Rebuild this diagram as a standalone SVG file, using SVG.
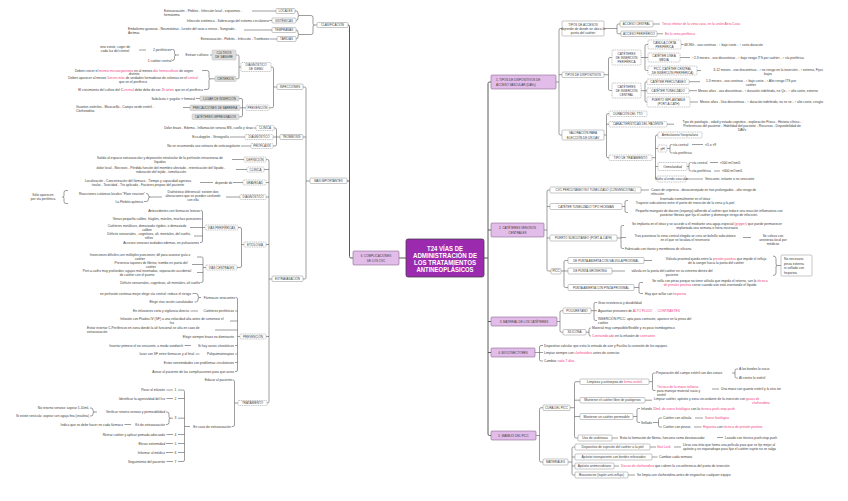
<svg xmlns="http://www.w3.org/2000/svg" width="848" height="501" viewBox="0 0 848 501">
<style>
text{font-family:"Liberation Sans",Arial,sans-serif;font-size:3.3px;fill:#3c3c3c}
.m{text-anchor:middle}
.e{text-anchor:end}
.u{font-size:3px}
.r{fill:#f0417e}
.bx{fill:#fff;stroke:#8f8f8f;stroke-width:.5}
.d{stroke-dasharray:1.2 .6}
.gr{fill:#dedede;stroke:#b0b0b0;stroke-width:.4}
.mn{fill:#e2bde9;stroke:#8a6a8f;stroke-width:.6}
.cn path{fill:none;stroke:#5a5a5a;stroke-width:.6}
.cn path.tk{stroke-width:1}
.ct text{fill:#fff;font-weight:bold;font-size:6.8px;text-anchor:middle}
</style>
<rect width="848" height="501" fill="#fff"/>
<g id="connectors" class="cn">
<path class="tk" d="M406 258H399M484 258H488"/>
<path class="tk" d="M348 25Q349.5 25 349.5 26.5V256.5Q349.5 258 351 258H353M347 181H349.5"/>
<path class="tk" d="M491 82H489.5Q488 82 488 83.5V434Q488 435.5 489.5 435.5H491M488 230H491M488 321.5H491M488 352.5H491"/>
<path d="M299.5 15.5H311Q313 15.5 313 17.5V23.5Q313 25 314.5 25H317M314.5 25Q313 25 313 26.5V32.5Q313 34.5 311 34.5H299.5"/>
<path d="M295 11H296Q298 11 298 13V14Q298 15.5 299.5 15.5Q298 15.5 298 17V18.5Q298 20.5 296 20.5"/>
<path d="M296 30Q298 30 298 32V33Q298 34.5 299.5 34.5Q298 34.5 298 36V37Q298 39 296 39"/>
<path d="M252 11H276M269.5 20.5H272M244 30H272M269.5 39H277"/>
<path d="M303 87H304.5Q306 87 306 88.5V277.5Q306 279 304.5 279H303M306 137H303M306 181H310"/>
<path d="M277 87H273.5M271 67H272Q273.5 67 273.5 68.5V106.3Q273.5 107.8 272 107.8H269"/>
<path d="M241 67H239M236 55H237.5Q239 55 239 56.5V77.3Q239 78.8 237.5 78.8H236"/>
<path d="M210 55H212M171 49.5H172.5Q174.5 49.5 174.5 51.5V53.5Q174.5 55 176 55H179M176 55Q174.5 55 174.5 56.5V58.5Q174.5 60.5 172.5 60.5H172M139 50H146"/>
<path d="M202 70.5H207Q209 70.5 209 72.5V77.3Q209 78.8 210.5 78.8H215M210.5 78.8Q209 78.8 209 80.3V87.5Q209 89.5 207 89.5H204"/>
<path d="M246 107.8H240M239 98.5H241Q242.5 98.5 242.5 100V115.3Q242.5 116.8 241 116.8H239M196 98.5H200M183 107.5H190"/>
<path d="M280 137H273M274 128H275Q276.5 128 276.5 129.5V144.5Q276.5 146 275 146H273M253.5 128H256M230 137H245M241 146H251"/>
<path d="M272 279H269M266 159.5H267.5Q269 159.5 269 161V401.5Q269 403 267.5 403H267M269 169.5H264M269 182.5H266M269 197H266M269 244.5H266M269 336.5H266"/>
<path d="M232 159.5H244M236 169.5H247M200 182.5H213M233 182.5H243M226 197H240"/>
<path d="M146 193.5H146.5Q148.5 193.5 148.5 195.5Q148.5 197 150 197H162M150 197Q148.5 197 148.5 198.5Q148.5 201.5 146.5 201.5H144"/>
<path d="M68 190.5H66Q64 190.5 64 192.5V195.5Q64 197 62.5 197Q64 197 64 198.5V201.5Q64 203.5 66 203.5H68"/>
<path d="M244 244.5H241.5M238 227.5H240Q241.5 227.5 241.5 229V266Q241.5 267.5 240 267.5H237"/>
<path d="M205 227.5H202.5M200.5 210.5H201Q202.5 210.5 202.5 212V241Q202.5 242.5 201 242.5H200M202.5 219H201.5M202.5 227.5H190M202.5 236H194"/>
<path d="M206 267.5H203M197 257H201.5Q203 257 203 258.5V281Q203 282.5 201.5 282.5H200.5M203 264.5H192M203 272.5H197"/>
<path d="M240 336.5H237.5M235.5 297.5H236Q237.5 297.5 237.5 299V370Q237.5 371.5 236 371.5H235M237.5 311H235M237.5 321H230M237.5 330H215M237.5 345.5H235M237.5 354H235M237.5 362.5H235"/>
<path d="M192.5 293.5H196Q198 293.5 198 295.5V296Q198 297.5 199.5 297.5H201M199.5 297.5Q198 297.5 198 299V300Q198 302 196 302H194.5M190.5 311H198M184.5 345.5H191M195.5 354H199.5"/>
<path d="M238 403H234.5M232.5 380H233Q234.5 380 234.5 381.5V425Q234.5 426.5 233 426.5H232"/>
<path d="M190 426.5H184.5M178 390H183Q184.5 390 184.5 391.5V460Q184.5 461.5 183 461.5H178M184.5 398.5H178M184.5 418.2H178M184.5 434.5H178M184.5 443.5H178M184.5 452.5H178"/>
<path d="M166.5 390H173M166.5 398.5H173M166.5 434.5H173M166 443.5H173M166 452.5H173M166.5 461.5H173M124.5 424.5H131"/>
<path d="M166 412H167Q169 412 169 414V416.7Q169 418.2 170.5 418.2H173M170.5 418.2Q169 418.2 169 419.7V422.5Q169 424.5 167 424.5H166"/>
<path d="M90 408H91Q93 408 93 410V410.5Q93 412 94.5 412H97M94.5 412Q93 412 93 413.5V414Q93 416 91 416H90"/>
<path d="M556 82H559M562 28.5H560.5Q559 28.5 559 30V133.5Q559 135 560.5 135H562M559 74.7H562"/>
<path d="M604 28.5H617M620 24H618.5Q617 24 617 25.5V32.3Q617 33.8 618.5 33.8H621M653 24H660M657 33.8H663"/>
<path d="M604 74.7H608.5M612 57.5H610Q608.5 57.5 608.5 59V89Q608.5 90.5 610 90.5H612"/>
<path d="M641 57.5H648M648 44.5H646.5Q645 44.5 645 46V69Q645 70.5 646.5 70.5H648M681 44.5H683.5M680 57.5H690M697 70.5H701"/>
<path d="M641 90.7H647M647 81.7H646.5Q645 81.7 645 83.2V100.5Q645 102 646.5 102H647M689 81.7H700M689 90.7H697M690 102H698"/>
<path d="M604 135H606.5M609 113.7H608Q606.5 113.7 606.5 115.2V156.2Q606.5 157.7 608 157.7H609M606.5 124.2H609M667 124.2H674"/>
<path d="M652 157.7H655.5M658 135H657Q655.5 135 655.5 136.5V177.5Q655.5 179 657 179H657.5M655.5 148.5H658M655.5 166.5H658"/>
<path d="M667 148.5H670M672.5 144.5H671.5Q670 144.5 670 146V151.5Q670 153 671.5 153H672.5M692 144.5H703"/>
<path d="M687 166.5H689M691.5 162.5H690.5Q689 162.5 689 164V169.5Q689 171 690.5 171H691.5M710 162.5H718M714 171H720M686 179H703"/>
<path d="M544 230H547M550 190H548.5Q547 190 547 191.5V269.5Q547 271 548.5 271H551M547 206.5H550M547 238H550M641 190H649"/>
<path d="M622 206.5H625M628 200.5H626.5Q625 200.5 625 202V211Q625 212.5 626.5 212.5H628"/>
<path d="M617 238H621M624 225.5H622.5Q621 225.5 621 227V247Q621 248.5 622.5 248.5H624M621 237.5H626M743 237.5H751"/>
<path d="M561 271H568M568 260.5H565.5Q564 260.5 564 262V286Q564 287.5 565.5 287.5H568M644 260.5H652M612 271H625"/>
<path d="M634 287.5H639M643 282.5H640.5Q639 282.5 639 284V292Q639 293.5 640.5 293.5H643"/>
<path d="M773 256Q776 256 776 258.5V264Q776 265.5 777.5 265.5H781M777.5 265.5Q776 265.5 776 267V273Q776 275.5 773 275.5"/>
<path d="M557 321.5H560M563 310.7H561.5Q560 310.7 560 312.2V330.7Q560 332.2 561.5 332.2H563"/>
<path d="M591 310.7H597M597 302.5H595.5Q594 302.5 594 304V319Q594 320.5 595.5 320.5H597"/>
<path d="M586 332.2H589M591 328H590.5Q589 328 589 329.5V334.5Q589 336 590.5 336H591"/>
<path d="M535 352.5H543M543 345.5H541Q539.5 345.5 539.5 347V359.5Q539.5 361 541 361H543"/>
<path d="M536 435.5H539.5M543 407.7H541Q539.5 407.7 539.5 409.2V460.5Q539.5 462 541 462H543"/>
<path d="M570 407.7H574.5M580 381.7H576Q574.5 381.7 574.5 383.2V436.5Q574.5 438 576 438H578M574.5 400.2H580M574.5 416.5H580"/>
<path d="M649 381.7H652.5M655.5 373H654Q652.5 373 652.5 374.5V389Q652.5 390.5 654 390.5H655.5M732 373H735M738 369H736.5Q735 369 735 370.5V376.5Q735 378 736.5 378H738M712 389H719"/>
<path d="M645 400.2H652M633 416.5H637M640 408.5H638.5Q637 408.5 637 410V421Q637 422.5 638.5 422.5H640"/>
<path d="M653 422.5H658.5M662 418H660Q658.5 418 658.5 419.5V425.5Q658.5 427 660 427H662M695 418H703M694 427H701.5M612 438H618M717 437.5H723"/>
<path d="M568 462H572M575 447H573.5Q572 447 572 448.5V473.5Q572 475 573.5 475H575M572 457H575M572 466H575M650 447H656M674 447H681M652 457H657.5M614 466H619M628 475H635"/>
</g>

<g id="center" class="ct">
<rect x="406" y="239" width="78" height="38" rx="2" fill="#9c2aae" stroke="#4a3a4e" stroke-width=".8"/>
<text x="445" y="250.5" textLength="36" lengthAdjust="spacingAndGlyphs">T24 VÍAS DE</text>
<text x="445" y="257.8" textLength="64" lengthAdjust="spacingAndGlyphs">ADMINISTRACIÓN DE</text>
<text x="445" y="265.1" textLength="62" lengthAdjust="spacingAndGlyphs">LOS TRATAMIENTOS</text>
<text x="445" y="272.4" textLength="57" lengthAdjust="spacingAndGlyphs">ANTINEOPLÁSICOS</text>
</g>

<g id="n6"><rect class="mn" x="353" y="251" width="46" height="14" rx="1"/><text class="m u" x="376" y="257">6. COMPLICACIONES</text><text class="m u" x="376" y="262">DE LOS CVC</text></g>
<g id="n1"><rect class="mn" x="491" y="75" width="65" height="14" rx="1"/><text class="u" x="496" y="81">1. TIPOS DE DISPOSITIVOS DE</text><text class="u" x="496" y="85.7">ACCESO VASCULAR (DAVs)</text></g>
<g id="n2"><rect class="mn" x="491" y="223" width="53" height="14" rx="1"/><text class="m u" x="517.5" y="229.3">2. CATÉTERES VENOSOS</text><text class="m u" x="517.5" y="233.8">CENTRALES</text></g>
<g id="n3"><rect class="mn" x="491" y="317" width="66" height="9" rx="1"/><text class="m u" x="524" y="322.7">3. MATERIAL DE LOS CATÉTERES</text></g>
<g id="n4"><rect class="mn" x="491" y="348" width="44" height="9" rx="1"/><text class="m u" x="513" y="353.7">4. BIOCONECTORES</text></g>
<g id="n5"><rect class="mn" x="491" y="431" width="45" height="9" rx="1"/><text class="m u" x="513.5" y="436.7">5. MANEJO DEL PICC</text></g>

<g id="clasificacion">
<rect class="bx" x="317" y="22.5" width="31" height="5" rx="1"/><text class="m u" x="332.5" y="26.1">CLASIFICACIÓN</text>
<rect class="bx" x="276" y="8.5" width="19" height="5" rx="1"/><text class="m u" x="285.5" y="12.1">LOCALES</text>
<rect class="bx" x="272" y="18" width="24" height="5" rx="1"/><text class="m u" x="284" y="21.6">SISTÉMICAS</text>
<rect class="bx" x="272" y="27.5" width="24" height="5" rx="1"/><text class="m u" x="284" y="31.1">TEMPRANAS</text>
<rect class="bx" x="277" y="36.5" width="19" height="5" rx="1"/><text class="m u" x="286.5" y="40.1">TARDÍAS</text>
<text x="164" y="11.7">Extravasación - Flebitis - Infección local - espasmos -</text><text x="164" y="15.7">hematoma</text>
<text class="e" x="269" y="21.7">Infección sistémica - Sobrecarga del sistema circulatorio</text>
<text x="128" y="29.5">Embolismo gaseoso - Neumotórax - Lesión del vaso o nervio - Sangrado -</text><text x="128" y="33.5">Arritmia</text>
<text class="e" x="269" y="40.2">Extravasación - Flebitis - Infección - Trombosis</text>
</g>

<g id="mas-importantes"><rect class="bx" x="310" y="178" width="37" height="5.5" rx="1"/><text class="m u" x="328.5" y="181.9">MÁS IMPORTANTES</text></g>

<g id="infecciones">
<rect class="bx" x="277" y="84" width="26" height="5.5" rx="1"/><text class="m u" x="290" y="87.9">INFECCIONES</text>
<rect class="bx d" x="241" y="62.5" width="30" height="9" rx="1"/><text class="m u" x="256" y="66.2">DIAGNÓSTICO</text><text class="m u" x="256" y="70.4">DE IDEBU</text>
<rect class="bx d" x="246" y="105" width="23" height="5.5" rx="1"/><text class="m u" x="257.5" y="108.9">PREVENCIÓN</text>
<rect class="gr" x="212" y="50" width="24" height="10" rx="1"/><text class="m u" x="224" y="54.2">CULTIVOS</text><text class="m u" x="224" y="58.4">DE SANGRE</text>
<rect class="gr" x="215" y="76" width="21" height="5.5" rx="1"/><text class="m u" x="225.5" y="79.9">CRITERIOS</text>
<text class="e" x="209" y="56.2">Extraer cultivos:</text>
<text class="e" x="171" y="50.7">2 periféricos</text>
<text class="e" x="171.5" y="61.7">1 catéter central</text>
<text class="m" x="115" y="48.2">sino existe, coger de</text><text class="m" x="115" y="52.2">cada luz del central</text>
<text class="m" x="134" y="71.7">Deben crecer el <tspan class="r">mismo microorganismo</tspan> en al menos <tspan class="r">dos hemocultivos</tspan> de origen</text>
<text class="m" x="134" y="75.2">distinto</text>
<text class="m" x="133" y="78.7">Deben aparecer al menos <tspan class="r">5veces más</tspan> de unidades formadoras de colonias en el <tspan class="r">central</tspan></text>
<text class="m" x="133" y="82.5">que en el periférico</text>
<text class="e" x="203" y="90.7">El crecimiento del cultivo del C.<tspan class="r">central</tspan> debe debe de ser <tspan class="r">2h antes</tspan> que en el periférico</text>
<rect class="gr" x="200" y="96" width="39" height="5" rx="1"/><text class="m u" x="219.5" y="99.6">LUGAR DE INSERCIÓN</text>
<rect class="gr" x="190" y="105" width="50" height="5.5" rx="1"/><text class="m u" x="215" y="108.9">PRECAUCIONES DE BARRERA</text>
<rect class="gr" x="192" y="114" width="47" height="5.5" rx="1"/><text class="m u" x="215.5" y="117.9">CATÉTERES IMPREGNADOS</text>
<text class="e" x="195" y="99.7">Subclavia &gt; yugular &gt; femoral</text>
<text x="76" y="108.2">Guantes estériles - Mascarilla - Campo verde estéril -</text><text x="76" y="112.2">Clorhexidina</text>
</g>

<g id="trombosis">
<rect class="bx" x="280" y="134.5" width="23" height="5" rx="1"/><text class="m u" x="291.5" y="138.1">TROMBOSIS</text>
<rect class="bx d" x="256" y="125.5" width="18" height="5" rx="1"/><text class="m u" x="265" y="129.1">CLÍNICA</text>
<rect class="bx d" x="245" y="134.5" width="28" height="5" rx="1"/><text class="m u" x="259" y="138.1">DIAGNÓSTICO</text>
<rect class="bx d" x="251" y="143.5" width="22" height="5" rx="1"/><text class="m u" x="262" y="147.1">PROFILAXIS</text>
<text class="e" x="253" y="129.2">Dolor brazo - Edema - Inflamación venosa MS, cuello y tórax</text>
<text class="e" x="229" y="138.2">Eco-doppler - Venografía</text>
<text class="e" x="240" y="147.2">No se recomienda uso rutinario de anticoagulante</text>
</g>

<g id="extravasacion">
<rect class="bx" x="272" y="276" width="31" height="5.5" rx="1"/><text class="m u" x="287.5" y="279.9">EXTRAVASACIÓN</text>
<rect class="bx d" x="244" y="157" width="22" height="5" rx="1"/><text class="m u" x="255" y="160.6">DEFINICIÓN</text>
<rect class="bx d" x="247" y="167" width="17" height="5" rx="1"/><text class="m u" x="255.5" y="170.6">CLÍNICA</text>
<rect class="bx d" x="243" y="180" width="23" height="5" rx="1"/><text class="m u" x="254.5" y="183.6">GRAVEDAD</text>
<rect class="bx d" x="240" y="194.5" width="26" height="5" rx="1"/><text class="m u" x="253" y="198.1">DIAGNÓSTICO</text>
<rect class="bx d" x="244" y="242" width="22" height="5" rx="1"/><text class="m u" x="255" y="245.6">ETIOLOGÍA</text>
<rect class="bx d" x="240" y="334" width="26" height="5" rx="1"/><text class="m u" x="253" y="337.6">PREVENCIÓN</text>
<rect class="bx d" x="238" y="400.5" width="29" height="5" rx="1"/><text class="m u" x="252.5" y="404.1">TRATAMIENTO</text>
<text class="m" x="160" y="159.2">Salida al espacio extravascular y deposición intratisular de la perfusión intravenosa de</text><text class="m" x="160" y="163.2">líquidos</text>
<text class="m" x="161" y="168.7">dolor local - Necrosis - Pérdida función del miembro afectado - retenticación del líquido -</text><text class="m" x="161" y="172.7">induración del tejido - tumefacción</text>
<text class="m" x="138" y="181.7">Localización - Concentración del fármaco - Tiempo y capacidad agresiva</text><text class="m" x="138" y="185.7">tisular - Toxicidad - Tto aplicado - Factores propios del paciente</text>
<text x="215" y="183.7">depende de</text>
<text class="m" x="193" y="193.2">Diafnóstico diferencial: existen dos</text><text class="m" x="193" y="197.2">alteraciones que se pueden confundir</text><text class="m" x="193" y="201.2">con ella</text>
<text class="e" x="145" y="194.7">Reacciones cutáneas locales "Flare reaction"</text>
<text class="e" x="143" y="202.7">La Flebitis química</text>
<text class="m" x="43" y="195.7">Sólo aparecen</text><text class="m" x="43" y="199.7">por vía periférica</text>
</g>

<g id="etiologia">
<rect class="bx d" x="205" y="225" width="33" height="5" rx="1"/><text class="m u" x="221.5" y="228.6">VÍAS PERIFÉRICAS</text>
<rect class="bx d" x="206" y="265" width="31" height="5" rx="1"/><text class="m u" x="221.5" y="268.6">VÍAS CENTRALES</text>
<text class="e" x="200" y="211.7">Antecedentes con fármacos lesivos</text>
<text class="e" x="201" y="220.2">Venas pequeña calibre, frágiles, móviles, muchas punciones</text>
<text class="m" x="147" y="226.7">Catéteres metálicos, demasiado rígidos, o demasiado</text><text class="m" x="147" y="230.7">calibre</text>
<text class="m" x="149" y="235.2">Déficits sensoriales , cognitivos, alt. mentales, del sueño,</text><text class="m" x="149" y="239.2">niños</text>
<text class="e" x="199" y="243.7">Accesos venosos tardados edemas, en pulsaciones</text>
<text class="m" x="140" y="256.2">Inserciones difíciles con múltiples punciones; dif para avanzar guía o</text><text class="m" x="140" y="260.2">catéter</text>
<text class="m" x="151" y="263.7">Presencia tapones de fibrina; trombo en punta del</text><text class="m" x="151" y="267.7">catéter</text>
<text class="m" x="137" y="271.7">Port-a-caths muy profundos; agujas mal insertadas, separación accidental</text><text class="m" x="137" y="275.7">de catéter con el puerto</text>
<text class="e" x="200" y="283.7">Déficits sensoriales, cognitivos, alt mentales, alt sueño</text>
</g>

<g id="prevencion-extravasacion">
<text class="e" x="235" y="298.7">Fármacos vesicantes</text>
<text class="e" x="191" y="294.7">en perfusión continua mejor elegir vía central: reduce el riesgo</text>
<text class="e" x="193" y="303.2">Elegir vías recién canalizadas</text>
<text class="e" x="234" y="312.2">Catéteres periféricos</text>
<text class="e" x="189" y="312.2">En infusiones corta y vigilancia directa</text>
<text class="m" x="172" y="320.2">Infusión con Fluidos IV (SF) a una velocidad alta antes de comenzar el</text><text class="m" x="172" y="324.2">fco</text>
<text x="87" y="329.2">Evitar insertar C.Periféricos en zona donde la alt funcional se alta en caso de</text><text x="87" y="333.2">extravasación</text>
<text class="e" x="234" y="338">Elegir siempre brazo no dominante</text>
<text class="e" x="234" y="346.7">Si hay varios citostáticos</text>
<text class="e" x="183" y="346.7">Insertar primero el no vesicante, a modo sandwich</text>
<text class="e" x="234" y="355.2">Poliquimioterapias</text>
<text class="e" x="194" y="355.2">lavar con SF entre fármacos y al final</text>
<text class="e" x="234" y="363.7">Evitar extremidades con problemas circulatorios</text>
<text class="e" x="234" y="372.7">Avisar al paciente de las complicaciones para que avise</text>
</g>

<g id="tratamiento">
<text class="e" x="232" y="381.2">Educar al paciente</text>
<text class="e" x="231" y="427.7">En caso de extravasación</text>
<text class="m" x="175.5" y="391.2">1</text><text class="m" x="175.5" y="399.7">2</text><text class="m" x="175.5" y="419.4">3</text><text class="m" x="175.5" y="435.7">4</text><text class="m" x="175.5" y="444.7">5</text><text class="m" x="175.5" y="453.7">6</text><text class="m" x="175.5" y="462.7">7</text>
<text class="e" x="165" y="391.2">Parar al infusión</text>
<text class="e" x="165" y="399.7">Identificar la agresividad del fco</text>
<text class="e" x="165" y="413.2">Verificar retorno venoso y permeabilidad</text>
<text class="e" x="165" y="425.7">Kit de extravasación</text>
<text class="e" x="123" y="425.7">Indica que se debe hacer en cada fármaco</text>
<text class="e" x="89" y="409.2">No retorno venoso: aspirar 5-10mL</text>
<text class="e" x="89" y="417.2">Si existe vesícula: aspirar con aguja fina (insulina)</text>
<text class="e" x="165" y="435.7">Retirar catéter y aplicar pomada adecuada</text>
<text class="e" x="165" y="444.7">Elevar extremidad</text>
<text class="e" x="165" y="453.7">Informar al médico</text>
<text class="e" x="165" y="462.7">Seguimiento del paciente</text>
</g>

<g id="tipos-accesos">
<rect class="bx" x="562" y="21" width="42" height="15" rx="1"/><text class="m u" x="583" y="25.7">TIPOS DE ACCESOS</text><text class="m" x="583" y="29.7">depende de donde se ubica la</text><text class="m" x="583" y="33.7">punta del catéter</text>
<rect class="bx" x="620" y="21" width="33" height="6" rx="1"/><text class="m u" x="636.5" y="25.1">ACCESO CENTRAL</text>
<rect class="bx" x="621" y="31" width="36" height="5.5" rx="1"/><text class="m u" x="639" y="34.9">ACCESO PERIFÉRICO</text>
<text class="r" x="662" y="25.2">Tercio inferior de la vena cava, en la unión Atrio-Cava</text>
<text class="r" x="665" y="35">En la vena periférica</text>
</g>

<g id="tipos-dispositivos">
<rect class="bx" x="562" y="72" width="42" height="5.5" rx="1"/><text class="m u" x="583" y="75.9">TIPOS DE DISPOSITIVOS</text>
<rect class="bx d" x="612" y="50" width="29" height="15" rx="1"/><text class="m u" x="626.5" y="54.7">CATÉTERES</text><text class="m u" x="626.5" y="58.7">DE INSERCIÓN</text><text class="m u" x="626.5" y="62.7">PERIFÉRICA</text>
<rect class="bx d" x="612" y="83" width="29" height="15" rx="1"/><text class="m u" x="626.5" y="87.7">CATÉTERES</text><text class="m u" x="626.5" y="91.7">DE INSERCIÓN</text><text class="m u" x="626.5" y="95.7">CENTRAL</text>
<rect class="bx d" x="648" y="40" width="33" height="9" rx="1"/><text class="m u" x="664.5" y="43.7">CÁNULA CORTA</text><text class="m u" x="664.5" y="47.7">PERIFÉRICA</text>
<rect class="bx d" x="648" y="53" width="32" height="9" rx="1"/><text class="m u" x="664" y="56.7">CATÉTER LÍNEA</text><text class="m u" x="664" y="60.7">MEDIA</text>
<rect class="bx d" x="648" y="66" width="49" height="9" rx="1"/><text class="m u" x="672.5" y="69.7">PICC (CATÉTER CENTRAL</text><text class="m u" x="672.5" y="73.7">DE INSERCIÓN PERIFÉRICA)</text>
<rect class="bx d" x="647" y="79" width="42" height="5.5" rx="1"/><text class="m u" x="668" y="82.9">CATÉTER PERCUTÁNEO</text>
<rect class="bx d" x="647" y="88" width="42" height="5.5" rx="1"/><text class="m u" x="668" y="91.9">CATÉTER TUNELIZADO</text>
<rect class="bx d" x="647" y="97" width="43" height="10" rx="1"/><text class="m u" x="668.5" y="100.9">PUERTO IMPLANTABLE</text><text class="m u" x="668.5" y="105.1">(PORT-A-CATH)</text>
<text x="684" y="45.7">48-96h - uso continuo - ↑ bajo coste - ↑ corta duración</text>
<text x="692" y="58.7">~2-3 meses - uso discontinuo - ↑ bajo riesgo ITS por catéter - ↑ vía periférica</text>
<text class="m" x="768" y="71.2">3-12 meses - uso discontinuo - ↑ no riesgo en la inserción - ↑ externo, Fijos</text><text class="m" x="768" y="75.2">bajos</text>
<text class="m" x="751" y="82.2">1-3 meses - uso continuo - ↑ bajo coste - ↑ Alto riesgo ITS por</text><text class="m" x="751" y="86.2">catéter</text>
<text x="698" y="91.9">Meses años - uso discontinuo - ↑ duración indefinida, no Qx - ↑ alto coste, externo</text>
<text x="700" y="103.2">Meses años - Uso discontinuo - ↑ duración indefinida, no se ve - ↑ alto coste, cirugía</text>
</g>

<g id="valoracion">
<rect class="bx" x="562" y="130" width="42" height="10" rx="1"/><text class="m u" x="583" y="134.2">VALORACIÓN PARA</text><text class="m u" x="583" y="138.7">ELECCIÓN DE UN DAV</text>
<rect class="bx d" x="609" y="111" width="38" height="5.5" rx="1"/><text class="m u" x="628" y="114.9">DURACIÓN DEL TTO</text>
<rect class="bx d" x="609" y="121.5" width="58" height="5.5" rx="1"/><text class="m u" x="638" y="125.4">CARACTERÍSTICAS DEL PACIENTE</text>
<rect class="bx d" x="609" y="155" width="43" height="5.5" rx="1"/><text class="m u" x="630.5" y="158.9">TIPO DE TRATAMIENTO</text>
<text class="m" x="742" y="123.2">Tipo de patología - edad y estado cognitivo - exploración Física - Historia clínica -</text><text class="m" x="742" y="127.2">Preferencias del paciente - Habilidad del paciente - Recursos - Disponibilidad de</text><text class="m" x="742" y="131.2">DAVs</text>
<rect class="bx d" x="658" y="132" width="44" height="6" rx="1"/><text class="m" x="680" y="136.2">Ambulatorio/ hospitalario</text>
<rect class="bx d" x="658" y="145" width="9" height="7" rx="1"/><text class="m" x="662.5" y="149.7">pH</text>
<rect class="bx d" x="658" y="162.5" width="29" height="8" rx="1"/><text class="m" x="672.5" y="167.7">Osmolaridad</text>
<rect class="bx d" x="657" y="176" width="29" height="6" rx="1"/><text class="m" x="671.5" y="180.2">Daño al endo vascular</text>
<text x="673" y="145.7">vía central</text><text x="705" y="145.7">&lt;5 o &gt;9</text><text x="673" y="154.2">vía periférica</text>
<text x="692" y="163.7">vía central</text><text x="720" y="163.7">&lt;500 mOsm/L</text>
<text x="692" y="172.2">vía periférica</text><text x="722" y="172.2">&lt;600 mOsm/L</text>
<text x="705" y="180.2">Vesicante, irritante o no vesicante</text>
</g>

<g id="cvc">
<rect class="bx" x="550" y="187" width="91" height="6" rx="1"/><text class="m u" x="595.5" y="191.1">CVC PERCUTÁNEO NO TUNELIZADO (CONVENCIONAL)</text>
<text x="651" y="190.7">Casos de urgencia - desaconsejado en ttos prolongados - alto riesgo de</text><text x="651" y="194.7">infección</text>
<rect class="bx" x="550" y="203.5" width="72" height="6" rx="1"/><text class="m u" x="586" y="207.6">CATÉTER TUNELIZADO TIPO HICKMAN</text>
<text class="m" x="685" y="199.7">Insertado normalmente en el tórax</text><text class="m" x="685" y="203.7">Trayecto subcutáneo entre el punto de inserción de la vena y la piel</text>
<text class="m" x="709" y="211.7">Pequeño manguito de dacron (esponja) adherido al catéter que induce una reacción inflamatoria con</text><text class="m" x="709" y="215.7">posterior fibrosis que fija el catéter y disminuye riesgo de infección.</text>
<rect class="bx" x="550" y="235" width="67" height="6" rx="1"/><text class="m u" x="583.5" y="239.1">PUERTO SUBCUTÁNEO (PORT-A-CATH)</text>
<text class="m" x="707" y="224.7">Se implanta en el tórax y se accede a él mediante una aguja especial <tspan class="r">(gripper)</tspan> que puede permanecer</text><text class="m" x="707" y="228.7">implantada una semana o fuera necesario</text>
<text class="m" x="685" y="236.7">Tras punzionar la vena central elegida se crea un bolsillo subcutáneo</text><text class="m" x="685" y="240.7">en el que se localiza el reservorio</text>
<text class="m" x="773" y="237.2">Se coloca con</text><text class="m" x="773" y="241.2">anestesia local por</text><text class="m" x="773" y="245.2">médicos</text>
<text x="625" y="249.7">Fabricado con titanio y membrana de silicona</text>
</g>

<g id="picc">
<rect class="bx" x="551" y="268.5" width="10" height="5.5" rx="1"/><text class="m u" x="556" y="272.4">PICC</text>
<rect class="bx" x="568" y="257.5" width="76" height="6" rx="1"/><text class="m u" x="606" y="261.6">DE PUNTA ABIERTA CON VÁLVULA PROXIMAL</text>
<rect class="bx" x="568" y="268" width="44" height="6" rx="1"/><text class="m u" x="590" y="272.1">DE PUNTA GROSHONG</text>
<rect class="bx" x="568" y="284.5" width="66" height="6" rx="1"/><text class="m u" x="601" y="288.6">PUNTA ABIERTA CON PINZA PROXIMAL</text>
<text class="m" x="716" y="259.7">Válvula proximal queda entre la <tspan class="r">presión positiva</tspan> que impide el reflujo</text><text class="m" x="716" y="263.7">de la sangre hacia la punta del catéter</text>
<text class="m" x="672" y="272.2">válvula en la punta del catéter en su extremo dentro del</text><text class="m" x="672" y="276.2">paciente</text>
<text class="m" x="710" y="281.7">Se sella con pinza porque no tiene válvula que impida el retorno, con la <tspan class="r">técnica</tspan></text><text class="m" x="710" y="285.7"><tspan class="r">de presión positiva</tspan> cerrar cuando aún está insertando el líquido</text>
<text x="645" y="294.7">Hay que sellar con <tspan class="r">heparina</tspan></text>
<rect class="bx" x="781" y="255" width="31" height="21" rx="1"/>
<text x="784" y="260.2">No necesario</text><text x="784" y="264.7">pinza externa</text><text x="784" y="269.2">ni sellado con</text><text x="784" y="273.7">heparina</text>
</g>

<g id="material">
<rect class="bx" x="563" y="308" width="28" height="5.5" rx="1"/><text class="m u" x="577" y="311.9">POLIURETANO</text>
<rect class="bx" x="563" y="329.5" width="23" height="5.5" rx="1"/><text class="m u" x="574.5" y="333.4">SILICONA</text>
<text x="598" y="303.7">Gran resistencia y durabilidad</text>
<text x="598" y="311.9">Aguantan presiones de <tspan class="r">ALTO FLUJO → CONTRASTES</tspan></text>
<text x="598" y="319.7">INSERCIÓN PICC: apta para contraste, aparece en la pinza del</text><text x="598" y="323.7">catéter</text>
<text x="592" y="329.2">Material muy compatible/flexible y es poco trombogénico</text>
<text x="592" y="337.2"><tspan class="r">Contraindicado</tspan> en la infusión de <tspan class="r">contrastes</tspan></text>
</g>

<g id="bioconectores">
<text x="544" y="346.7">Dispositivo valvular que evita la entrada de aire y Facilita la conexión de los equipos.</text>
<text x="544" y="354.2">Limpiar siempre con <tspan class="r">clorhexidina</tspan> antes de conectar</text>
<text x="544" y="362.2">Cambiar <tspan class="r">cada 7 días</tspan></text>
</g>

<g id="cura-picc">
<rect class="bx" x="543" y="405" width="27" height="5.5" rx="1"/><text class="m u" x="556.5" y="408.9">CURA DEL PICC</text>
<rect class="bx" x="580" y="379" width="69" height="5.5" rx="1"/><text class="m" x="614.5" y="382.9">Limpieza y antisepsia de <tspan class="r">forma estéril</tspan></text>
<text x="656" y="374.2">Preparación del campo estéril con dos zonas:</text>
<text x="739" y="370.2">A los bordes lo sucio</text><text x="739" y="379.2">Al centro lo estéril</text>
<text class="r" x="657" y="388.2">Técnica de la mano solitaria:</text><text x="657" y="392.2">para manejar material sucio y</text><text x="657" y="395.9">estéril</text>
<text x="721" y="390.2">Una mano con guante estéril y la otra sin</text>
<rect class="bx" x="580" y="397.5" width="65" height="5.5" rx="1"/><text class="m" x="612.5" y="401.4">Mantener el catéter libre de patógenos</text>
<text x="654" y="400.2">Limpiar catéter, apósito y zona circundante de la inserción con <tspan class="r">gasas de</tspan></text><text class="r" x="752" y="404.2">clorhexidina</text>
<rect class="bx" x="580" y="413.5" width="53" height="6" rx="1"/><text class="m" x="606.5" y="417.7">Mantener un catéter permeable</text>
<text x="641" y="409.7">Infundir <tspan class="r">20mL de suero fisiológico</tspan> con la <tspan class="r">técnica push-stop-push</tspan></text>
<text x="641" y="423.7">Sellado</text>
<text x="663" y="419.2">Catéter con válvula</text><text class="r" x="705" y="419.2">Suero fisiológico</text>
<text x="663" y="428.2">Catéter con pinzas</text><text x="703" y="428.2"><tspan class="r">Heparina</tspan> con <tspan class="r">técnica de presión positiva</tspan></text>
<rect class="bx" x="578" y="435" width="34" height="6" rx="1"/><text class="m" x="595" y="439.2">Uso de urokinasa</text>
<text x="620" y="439">Evita la formación de fibrina, funciona como desatascador</text>
<text x="725" y="439">Lavado con técnica push-stop-push</text>
</g>

<g id="materiales">
<rect class="bx" x="543" y="459" width="25" height="6" rx="1"/><text class="m u" x="555.5" y="463.1">MATERIALES</text>
<rect class="bx" x="575" y="444" width="75" height="6" rx="1"/><text class="m" x="612.5" y="448.2">Dispositivo de sujeción del catéter a la piel</text>
<text class="r" x="657" y="448.2">Stat Lock</text>
<text x="683" y="446.2">Lleva una tirita que forma una película para que se fije mejor al</text><text x="683" y="450.2">apósito y un esparadrapo para fijar el catéter sujeto no se salga</text>
<rect class="bx" x="575" y="454" width="77" height="6" rx="1"/><text class="m" x="613.5" y="458.2">Apósito transparente con bordes reforzados</text>
<text x="659" y="458.2">Cambiar cada semana</text>
<rect class="bx" x="575" y="463" width="39" height="6" rx="1"/><text class="m" x="594.5" y="467.2">Apósito antimicrobiano</text>
<text x="621" y="467.2"><tspan class="r">Discos de clorhexidina</tspan> que cubren la circunferencia del punto de inserción</text>
<rect class="bx" x="575" y="472" width="53" height="6" rx="1"/><text class="m" x="601.5" y="476.2">Bioconector (tapón anti-reflujo)</text>
<text x="637" y="476.2">Se limpia con clorhexidina antes de enganchar cualquier equipo</text>
</g>
</svg>
